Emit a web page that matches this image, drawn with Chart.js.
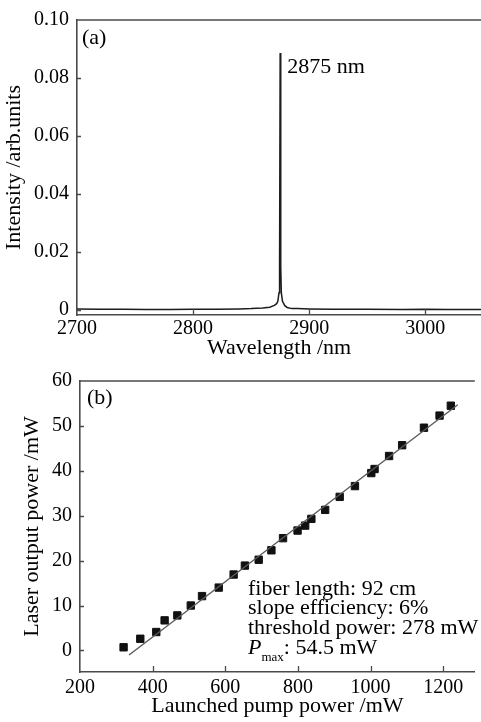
<!DOCTYPE html>
<html>
<head>
<meta charset="utf-8">
<script src="https://cdn.jsdelivr.net/npm/chart.js@4.4.1/dist/chart.umd.min.js"></script>
<style>
  html, body { margin: 0; padding: 0; background: #fff; overflow: hidden; }
  .panel { position: absolute; left: 0; width: 481px; height: 361px; }
  #panelA { top: 0; }
  #panelB { top: 361px; }
</style>
</head>
<body>
<div class="panel" id="panelA"><canvas id="espectro"></canvas></div>
<div class="panel" id="panelB"><canvas id="potencia"></canvas></div>
<script>
// (a) espectro de salida del laser
const longitudOnda = [2700, 2720, 2740, 2760, 2780, 2800, 2820, 2840, 2850, 2860, 2866, 2870, 2872, 2873, 2874, 2874.5,
                      2875, 2875.5, 2876, 2877, 2879, 2881, 2885, 2890, 2900, 2920, 2950, 2980, 3000, 3020, 3050];
const intensidad = [0.0004, 0.0003, 0.0003, 0.0002, 0.0002, 0.0003, 0.0003, 0.0004, 0.0005, 0.0007, 0.0010, 0.0016, 0.0022, 0.0030, 0.0060, 0.0150,
                    0.0886, 0.0150, 0.0060, 0.0030, 0.0015, 0.0009, 0.0005, 0.0005, 0.0004, 0.0003, 0.0003, 0.0002, 0.0003, 0.0002, 0.0002];
const ticksLongitud = [2700, 2800, 2900, 3000];
const ticksIntensidad = [0, 0.02, 0.04, 0.06, 0.08, 0.10];
const picoLongitud = 2875;
const picoIntensidad = 0.0886;

// (b) potencia de salida vs potencia de bombeo
const potenciaBombeo = [320, 366, 410, 433, 468, 505, 536, 582, 623, 654, 692, 727, 759,
                        799, 820, 837, 875, 915, 957, 1002, 1011, 1051, 1087, 1147, 1190, 1221];
const potenciaSalida = [0.7, 2.6, 4.1, 6.7, 7.8, 10.0, 12.1, 14.0, 16.9, 18.9, 20.2, 22.3, 25.0,
                        26.7, 27.8, 29.3, 31.3, 34.2, 36.6, 39.5, 40.4, 43.3, 45.7, 49.6, 52.3, 54.5];
// recta de ajuste lineal (extremos)
const ajusteBombeo = [335, 1240];
const ajusteSalida = [-1.0, 54.7];
const ticksBombeo = [200, 400, 600, 800, 1000, 1200];
const ticksSalida = [0, 10, 20, 30, 40, 50, 60];
const notas = ['fiber length: 92 cm', 'slope efficiency: 6%', 'threshold power: 278 mW'];
const notaPmax = ': 54.5 mW';

const fuente = "'Liberation Serif', 'Times New Roman', serif";
const colorEje = '#4a4a4a';
const colorTexto = '#000';

// configuracion comun de los ejes
function ejeX(min, max, ticks, titulo, alto, padTick, padTitulo) {
    return {
        type: 'linear', min: min, max: max,
        afterBuildTicks: s => { s.ticks = ticks.map(v => ({ value: v })); },
        afterFit: s => { s.height = alto; },
        grid: { drawOnChartArea: false, drawTicks: false },
        border: { color: colorEje, width: 1.6 },
        ticks: { color: colorTexto, font: { family: fuente, size: 20 }, padding: padTick,
                 maxRotation: 0, autoSkip: false, callback: v => String(v) },
        title: { display: true, text: titulo, color: colorTexto, font: { family: fuente, size: 22 },
                 padding: { top: 0, bottom: padTitulo } }
    };
}
function ejeY(min, max, ticks, titulo, ancho, padTitulo, formato) {
    return {
        type: 'linear', min: min, max: max,
        afterBuildTicks: s => { s.ticks = ticks.map(v => ({ value: v })); },
        afterFit: s => { s.width = ancho; },
        grid: { drawOnChartArea: false, drawTicks: false },
        border: { color: colorEje, width: 1.6 },
        ticks: { color: colorTexto, font: { family: fuente, size: 20 }, padding: 8,
                 autoSkip: false, callback: formato },
        title: { display: true, text: titulo, color: colorTexto, font: { family: fuente, size: 22 },
                 padding: { top: padTitulo, bottom: 0 } }
    };
}

// marco superior y marcas de los ticks hacia adentro
const marcoTicks = {
    id: 'marcoTicks',
    afterDraw(chart) {
        const { ctx, chartArea: a, scales: { x, y } } = chart;
        ctx.save();
        ctx.strokeStyle = colorEje;
        ctx.lineWidth = 1.6;
        ctx.beginPath();
        ctx.moveTo(a.left, a.top);
        ctx.lineTo(a.right, a.top);
        ctx.stroke();
        ctx.lineWidth = 1.3;
        ctx.beginPath();
        x.ticks.forEach(t => {
            const px = Math.round(x.getPixelForValue(t.value)) + 0.5;
            if (px - a.left < 3) return;
            ctx.moveTo(px, a.bottom);
            ctx.lineTo(px, a.bottom - 6);
        });
        y.ticks.forEach(t => {
            const py = Math.round(y.getPixelForValue(t.value)) + 0.5;
            if (py - a.top < 3) return;
            ctx.moveTo(a.left, py);
            ctx.lineTo(a.left + 4, py);
        });
        ctx.stroke();
        ctx.restore();
    }
};

const textosA = {
    id: 'textosA',
    afterDraw(chart) {
        const { ctx, chartArea: a, scales: { x, y } } = chart;
        ctx.save();
        ctx.fillStyle = colorTexto;
        ctx.font = `22px ${fuente}`;
        ctx.textBaseline = 'middle';
        ctx.fillText('(a)', a.left + 5, a.top + 18);
        ctx.fillText(`${picoLongitud} nm`, x.getPixelForValue(picoLongitud) + 7, y.getPixelForValue(picoIntensidad) + 14);
        ctx.restore();
    }
};

const textosB = {
    id: 'textosB',
    afterDraw(chart) {
        const { ctx, chartArea: a } = chart;
        ctx.save();
        ctx.fillStyle = colorTexto;
        ctx.font = `22px ${fuente}`;
        ctx.textBaseline = 'middle';
        ctx.fillText('(b)', a.left + 7, a.top + 17);
        ctx.textBaseline = 'alphabetic';
        const x0 = a.left + 168;
        const y0 = a.bottom - 77.5;
        notas.forEach((t, i) => ctx.fillText(t, x0, y0 + i * 19.9));
        // P con subindice "max"
        const yP = y0 + 3 * 19.9;
        ctx.font = `italic 22px ${fuente}`;
        ctx.fillText('P', x0, yP);
        let xx = x0 + ctx.measureText('P').width;
        ctx.font = `13px ${fuente}`;
        ctx.fillText('max', xx, yP + 6.5);
        xx += ctx.measureText('max').width;
        ctx.font = `22px ${fuente}`;
        ctx.fillText(notaPmax, xx, yP);
        ctx.restore();
    }
};

Chart.defaults.font.family = fuente;

// grafico del espectro
new Chart(document.querySelector('#espectro').getContext('2d'), {
    type: 'line',
    data: {
        datasets: [{
            data: longitudOnda.map((l, i) => ({ x: l, y: intensidad[i] })),
            borderColor: '#1c1c1c',
            borderWidth: 1.5,
            pointRadius: 0,
            tension: 0
        }]
    },
    options: {
        responsive: true,
        maintainAspectRatio: false,
        animation: false,
        layout: { padding: { top: 13, right: 0, bottom: 0, left: 0 } },
        plugins: { legend: { display: false }, tooltip: { enabled: false } },
        scales: {
            x: ejeX(2700, 3048, ticksLongitud, 'Wavelength /nm', 46, 2, 0),
            y: ejeY(-0.0017, 0.10, ticksIntensidad, 'Intensity /arb.units', 77, 1,
                    v => v === 0 ? '0' : v.toFixed(2))
        }
    },
    plugins: [marcoTicks, textosA]
});

// grafico de potencia
new Chart(document.querySelector('#potencia').getContext('2d'), {
    type: 'scatter',
    data: {
        datasets: [{
            data: ajusteBombeo.map((p, i) => ({ x: p, y: ajusteSalida[i] })),
            showLine: true,
            borderColor: '#5a5a5a',
            borderWidth: 1.4,
            pointRadius: 0,
            order: 0
        }, {
            data: potenciaBombeo.map((p, i) => ({ x: p, y: potenciaSalida[i] })),
            pointStyle: 'rect',
            pointRadius: 5.2,
            pointBorderWidth: 1,
            backgroundColor: '#111',
            borderColor: '#111',
            order: 1
        }]
    },
    options: {
        responsive: true,
        maintainAspectRatio: false,
        animation: false,
        layout: { padding: { top: 15.5, right: 0, bottom: 0, left: 0 } },
        plugins: { legend: { display: false }, tooltip: { enabled: false } },
        scales: {
            x: ejeX(200, 1287, ticksBombeo, 'Launched pump power /mW', 50, 4, 3),
            y: ejeY(-4.8, 60, ticksSalida, 'Laser output power /mW', 80, 19, v => String(v))
        }
    },
    plugins: [marcoTicks, textosB]
});
</script>
</body>
</html>
